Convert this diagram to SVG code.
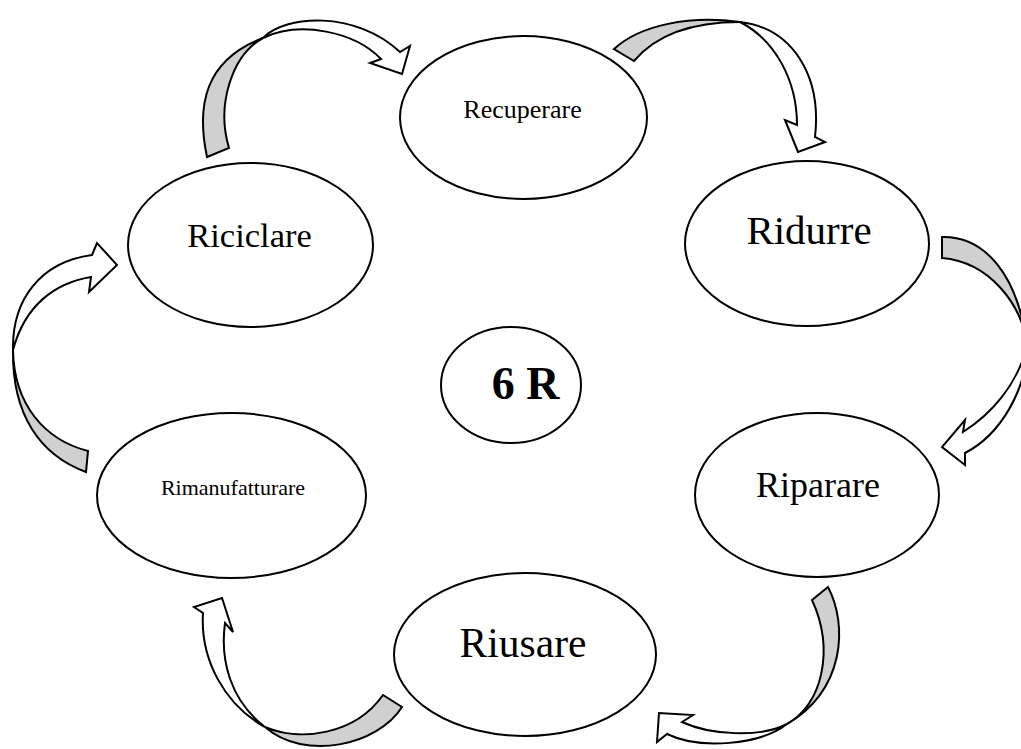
<svg xmlns="http://www.w3.org/2000/svg" width="1021" height="749" viewBox="0 0 1021 749">
  <style>
    .node ellipse { fill: #ffffff; stroke: #000000; stroke-width: 2; }
    .label { font-family: "Liberation Serif", "Times New Roman", serif; fill: #000000; text-anchor: middle; }
    .back { fill: #d0d0d0; stroke: #000000; stroke-width: 2; stroke-linejoin: miter; }
    .front { fill: #ffffff; stroke: #000000; stroke-width: 2; stroke-linejoin: miter; }
  </style>
  <rect width="1021" height="749" fill="#ffffff"/>

  <!-- curved arrows: shaded back band first, then the front band with its head -->
  <g id="connectors">
    <g id="arrow-riciclare-recuperare">
      <path class="back" d="M207,157 C196,105 205,60 263,38 C232,55 216,105 229,148 Z"/>
      <path class="front" d="M263,38 C285,15 355,10 400,52 L410,46 L402,74 L370,63 L381,59 C355,32 300,20 263,38 Z"/>
    </g>
    <g id="arrow-recuperare-ridurre">
      <path class="back" d="M614,49 C640,25 690,15 740,22 C700,22 660,30 634,61 Z"/>
      <path class="front" d="M740,22 C792,28 822,75 815,137 L825,142 L798,152 L785,120 L797,125 C797,80 775,40 740,22 Z"/>
    </g>
    <g id="arrow-ridurre-riparare">
      <path class="back" d="M942,237 C985,236 1018,275 1027,345 C1022,305 990,262 942,258 Z"/>
      <path class="front" d="M1027,345 C1027,390 1000,435 965,453 L965,465 L942,447 L965,420 L963,432 C990,415 1018,385 1027,345 Z"/>
    </g>
    <g id="arrow-riparare-riusare">
      <path class="back" d="M828,587 C848,625 845,690 787,724 C822,705 835,650 812,600 Z"/>
      <path class="front" d="M787,724 C760,745 700,750 667,734 L657,742 L659,713 L693,715 L682,722 C710,735 760,738 787,724 Z"/>
    </g>
    <g id="arrow-riusare-rimanufatturare">
      <path class="back" d="M402,707 C378,745 305,762 265,727 C300,742 355,735 383,695 Z"/>
      <path class="front" d="M265,727 C225,705 200,660 203,613 L194,607 L222,598 L233,632 L225,623 C220,660 230,700 265,727 Z"/>
    </g>
    <g id="arrow-rimanufatturare-riciclare">
      <path class="back" d="M86,472 C40,455 12,415 13,350 C14,405 45,440 88,451 Z"/>
      <path class="front" d="M13,350 C12,300 40,262 92,255 L97,243 L117,265 L89,292 L91,277 C55,283 25,305 13,350 Z"/>
    </g>
  </g>

  <g id="node-recuperare" class="node">
    <ellipse cx="523.5" cy="117.5" rx="123.5" ry="81.5"/>
    <text class="label" x="522.5" y="118" font-size="26">Recuperare</text>
  </g>
  <g id="node-ridurre" class="node">
    <ellipse cx="807" cy="243.5" rx="122" ry="82.5"/>
    <text class="label" x="809" y="244" font-size="41">Ridurre</text>
  </g>
  <g id="node-riparare" class="node">
    <ellipse cx="817" cy="495" rx="122" ry="82"/>
    <text class="label" x="818" y="497" font-size="36">Riparare</text>
  </g>
  <g id="node-riusare" class="node">
    <ellipse cx="525" cy="654.5" rx="131" ry="81.5"/>
    <text class="label" x="523" y="657" font-size="41.5">Riusare</text>
  </g>
  <g id="node-rimanufatturare" class="node">
    <ellipse cx="231.5" cy="495.5" rx="134.5" ry="82.5"/>
    <text class="label" x="233" y="495" font-size="22">Rimanufatturare</text>
  </g>
  <g id="node-riciclare" class="node">
    <ellipse cx="250.5" cy="245" rx="122.5" ry="82"/>
    <text class="label" x="249.5" y="247" font-size="34.5">Riciclare</text>
  </g>
  <g id="node-6r" class="node">
    <ellipse cx="511" cy="385" rx="70" ry="58"/>
    <text class="label" x="525.5" y="399" font-size="46" font-weight="bold">6 R</text>
  </g>
</svg>
